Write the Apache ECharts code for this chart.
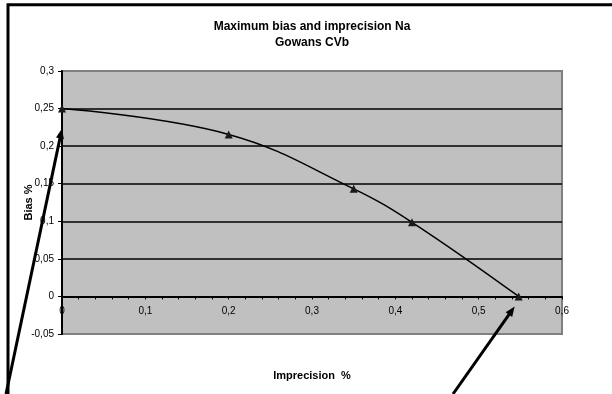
<!DOCTYPE html>
<html>
<head>
<meta charset="utf-8">
<script src="https://cdn.jsdelivr.net/npm/echarts@6/dist/echarts.min.js"></script>
<style>
html,body{margin:0;padding:0;background:#fff;}
#c{width:612px;height:394px;}
</style>
</head>
<body>
<div id="c"></div>
<script>
var titleLines = ['Maximum bias and imprecision Na', 'Gowans CVb'];
var xName = 'Imprecision  %';
var yName = 'Bias %';
var imprecision = [0, 0.2, 0.35, 0.42, 0.548];
var bias = [0.25, 0.2156, 0.1432, 0.0987, 0];
var xTicks = [0, 0.1, 0.2, 0.3, 0.4, 0.5, 0.6];
var yTicks = [-0.05, 0, 0.05, 0.1, 0.15, 0.2, 0.25, 0.3];

function fmt(v) {
  var r = Math.round(v * 1000) / 1000;
  return String(r).replace('.', ',');
}

var chart = echarts.init(document.getElementById('c'), null, {renderer: 'canvas'});
var font = 'Liberation Sans, Arial, sans-serif';

var splitColors = yTicks.map(function (v, i) {
  return (i === 0 || i === yTicks.length - 1) ? 'rgba(0,0,0,0)' : '#000';
});

var option = {
  animation: false,
  backgroundColor: '#fff',
  textStyle: {fontFamily: font},
  grid: {
    left: 62, top: 71, right: 50, bottom: 60,
    containLabel: false, outerBoundsMode: 'none',
    show: true, backgroundColor: '#c0c0c0', borderColor: '#808080', borderWidth: 2
  },
  xAxis: {
    type: 'value',
    min: xTicks[0], max: xTicks[xTicks.length - 1], interval: 0.1,
    name: xName, nameLocation: 'middle', nameGap: 36, nameMoveOverlap: false,
    nameTextStyle: {fontFamily: font, fontSize: 11, fontWeight: 'bold', color: '#000'},
    axisLine: {show: true, onZero: true, lineStyle: {color: '#000', width: 2}},
    axisTick: {show: true, inside: false, length: 3, lineStyle: {color: '#000', width: 1}},
    minorTick: {show: true, splitNumber: 5, length: 3, lineStyle: {color: '#000', width: 1}},
    axisLabel: {fontFamily: font, fontSize: 10, color: '#000', margin: -28, formatter: fmt},
    splitLine: {show: false}
  },
  yAxis: {
    type: 'value',
    min: yTicks[0], max: yTicks[yTicks.length - 1], interval: 0.05,
    name: yName, nameLocation: 'middle', nameGap: 28, nameMoveOverlap: false,
    nameTextStyle: {fontFamily: font, fontSize: 11, fontWeight: 'bold', color: '#000'},
    axisLine: {show: true, onZero: false, lineStyle: {color: '#000', width: 2}},
    axisTick: {show: true, inside: false, length: 4, lineStyle: {color: '#000', width: 1}},
    axisLabel: {fontFamily: font, fontSize: 10, color: '#000', margin: 8, formatter: fmt},
    splitLine: {show: true, lineStyle: {color: splitColors, width: 1.5}}
  },
  series: [{
    type: 'line',
    data: imprecision.map(function (x, i) { return [x, bias[i]]; }),
    smooth: 0.4,
    symbol: 'triangle',
    symbolSize: 8,
    itemStyle: {color: '#1a1a1a'},
    lineStyle: {color: '#000', width: 1.5},
    z: 5
  }],
  graphic: [
    {
      type: 'rect', silent: true, z: 100,
      shape: {x: 8, y: 4.7, width: 700, height: 500},
      style: {fill: 'none', stroke: '#000', lineWidth: 3}
    },
    {
      type: 'text', z: 100, x: 312, y: 27,
      style: {text: titleLines[0], font: 'bold 12px ' + font, fill: '#000', textAlign: 'center', textVerticalAlign: 'middle'}
    },
    {
      type: 'text', z: 100, x: 312, y: 43,
      style: {text: titleLines[1], font: 'bold 12px ' + font, fill: '#000', textAlign: 'center', textVerticalAlign: 'middle'}
    }
  ]
};
chart.setOption(option);

function arrow(tail, tip) {
  var dx = tip[0] - tail[0], dy = tip[1] - tail[1];
  var len = Math.sqrt(dx * dx + dy * dy);
  var ux = dx / len, uy = dy / len;
  var hl = 10, hw = 4;
  var bx = tip[0] - ux * hl, by = tip[1] - uy * hl;
  return [
    {type: 'line', silent: true, z: 110,
      shape: {x1: tail[0], y1: tail[1], x2: bx + ux * 1, y2: by + uy * 1},
      style: {stroke: '#000', lineWidth: 3}},
    {type: 'polygon', silent: true, z: 110,
      shape: {points: [[tip[0], tip[1]], [bx - uy * hw, by + ux * hw], [bx + uy * hw, by - ux * hw]]},
      style: {fill: '#000'}}
  ];
}
var pA = chart.convertToPixel({gridIndex: 0}, [imprecision[0], bias[0]]);
var pB = chart.convertToPixel({gridIndex: 0}, [imprecision[4], bias[4]]);
var g = option.graphic.concat(
  arrow([6, 394], [pA[0], pA[1] + 20]),
  arrow([453, 394], [pB[0] - 4, pB[1] + 10])
);
chart.setOption({graphic: g});
</script>
</body>
</html>
